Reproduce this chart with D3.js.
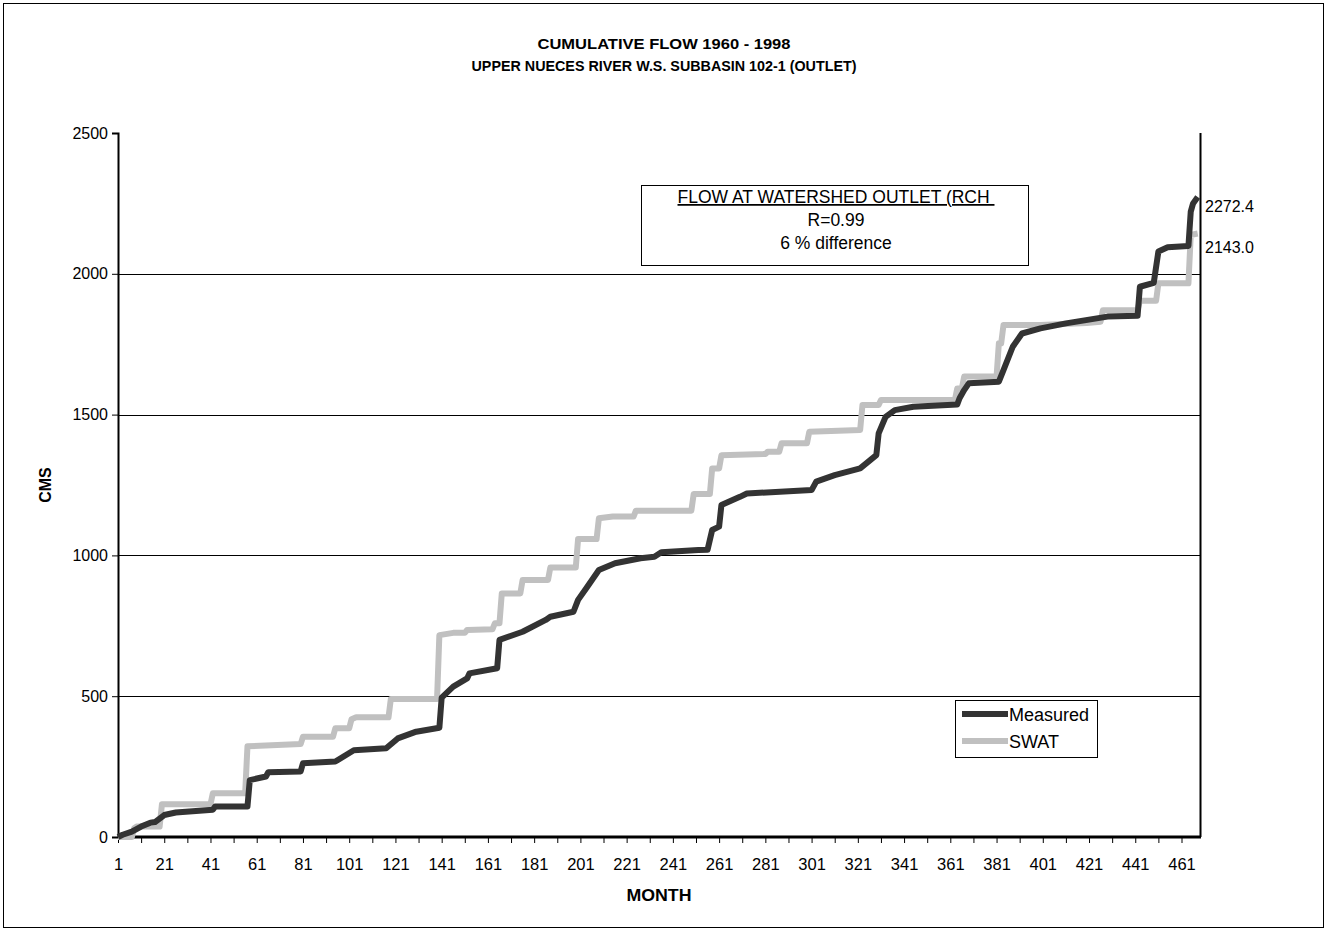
<!DOCTYPE html>
<html>
<head>
<meta charset="utf-8">
<script src="https://cdn.jsdelivr.net/npm/d3@7"></script>
<style>
  html, body { margin: 0; padding: 0; background: #fff; }
  svg { display: block; }
  text { font-family: "Liberation Sans", Arial, sans-serif; fill: #000; }
</style>
</head>
<body>
<svg id="chart" width="1328" height="932"></svg>
<script>
// ---------------- DATA ----------------
const titleLines = ["CUMULATIVE FLOW 1960 - 1998", "UPPER NUECES RIVER W.S. SUBBASIN 102-1 (OUTLET)"];
const xAxisTitle = "MONTH";
const yAxisTitle = "CMS";
const yTickValues = [0, 500, 1000, 1500, 2000, 2500];
const xLabelMonths = [1, 21, 41, 61, 81, 101, 121, 141, 161, 181, 201, 221, 241, 261, 281, 301, 321, 341, 361, 381, 401, 421, 441, 461];
const xMinorMonths = [1, 11, 21, 31, 41, 51, 61, 71, 81, 91, 101, 111, 121, 131, 141, 151, 161, 171, 181, 191, 201, 211, 221, 231, 241, 251, 261, 271, 281, 291, 301, 311, 321, 331, 341, 351, 361, 371, 381, 391, 401, 411, 421, 431, 441, 451, 461];
const seriesNames = ["Measured", "SWAT"];
const annotationLines = ["FLOW AT WATERSHED OUTLET (RCH ", "R=0.99", "6 % difference"];
const endLabels = ["2272.4", "2143.0"];

// Measured cumulative flow (month, CMS) at read-off key points
const measuredMonths = [1, 3, 7, 11, 15, 17, 21, 26, 42, 43, 57, 58, 65, 66, 80, 81, 95, 103, 117, 122, 130, 140, 141, 146, 152, 153, 165, 166, 176, 186, 188, 198, 200, 204, 209, 216, 227, 233, 236, 252, 256, 258, 261, 262, 270, 273, 301, 303, 311, 322, 329, 330, 333, 337, 345, 364, 365, 367, 369, 382, 384, 388, 392, 400, 411, 429, 442, 443, 449, 451, 455, 464, 465, 466, 468];
const measuredValues = [0, 8, 19, 37, 51, 53, 78, 87, 97, 108, 108, 202, 215, 230, 233, 262, 268, 308, 315, 350, 374, 388, 495, 534, 563, 581, 599, 700, 729, 771, 782, 800, 842, 889, 948, 972, 990, 995, 1011, 1019, 1020, 1090, 1102, 1179, 1208, 1220, 1232, 1262, 1285, 1309, 1356, 1433, 1492, 1516, 1528, 1536, 1558, 1587, 1611, 1617, 1658, 1741, 1788, 1806, 1824, 1848, 1851, 1954, 1968, 2079, 2094, 2099, 2221, 2250, 2272.4];

// SWAT simulated cumulative flow (month, CMS)
const swatMonths = [1, 7, 8, 9, 19, 20, 41, 42, 56, 57, 80, 81, 94, 95, 101, 102, 104, 118, 119, 139, 140, 146, 151, 152, 163, 164, 166, 167, 175, 176, 187, 188, 199, 200, 208, 209, 215, 224, 225, 249, 250, 257, 258, 261, 262, 281, 282, 287, 288, 299, 300, 322, 323, 330, 331, 363, 364, 366, 367, 381, 382, 383, 384, 400, 420, 426, 427, 442, 443, 450, 451, 464, 465, 468];
const swatValues = [0, 0, 31, 37, 37, 116, 116, 155, 155, 322, 330, 356, 356, 386, 386, 418, 425, 425, 490, 490, 717, 725, 725, 735, 738, 759, 759, 865, 865, 913, 913, 957, 957, 1058, 1058, 1132, 1138, 1138, 1159, 1159, 1218, 1218, 1309, 1309, 1356, 1360, 1368, 1368, 1398, 1398, 1439, 1445, 1534, 1534, 1552, 1552, 1593, 1593, 1635, 1635, 1753, 1753, 1818, 1818, 1825, 1830, 1871, 1871, 1904, 1904, 1966, 1966, 2138, 2143.0];

// ---------------- LAYOUT ----------------
const svg = d3.select("#chart");
const plot = { left: 118, right: 1200, top: 133, bottom: 837 };
const colors = { Measured: "#333333", SWAT: "#c0c0c0" };

const x = d3.scaleLinear().domain([1, 469]).range([plot.left, plot.right]);
const y = d3.scaleLinear().domain([0, 2500]).range([plot.bottom, plot.top]);

// outer frame
svg.append("rect").attr("x", 3.5).attr("y", 3.5).attr("width", 1320).attr("height", 924)
  .attr("fill", "#fff").attr("stroke", "#000").attr("stroke-width", 1);

// titles
const titleWidths = [253, 385];
svg.selectAll("text.title").data(titleLines).join("text")
  .attr("class", "title")
  .attr("x", 664).attr("y", (d, i) => 49 + i * 22)
  .attr("text-anchor", "middle").attr("font-size", 15).attr("font-weight", "bold")
  .attr("textLength", (d, i) => titleWidths[i]).attr("lengthAdjust", "spacingAndGlyphs")
  .text(d => d);

// gridlines
svg.append("g").selectAll("line").data(yTickValues.filter(v => v > 0 && v < 2500)).join("line")
  .attr("x1", plot.left).attr("x2", plot.right)
  .attr("y1", d => Math.round(y(d)) + 0.5).attr("y2", d => Math.round(y(d)) + 0.5)
  .attr("stroke", "#000").attr("stroke-width", 1);

// right border of plot area
svg.append("line").attr("x1", plot.right + 0.5).attr("x2", plot.right + 0.5)
  .attr("y1", plot.top).attr("y2", plot.bottom).attr("stroke", "#000").attr("stroke-width", 2);

// Y axis
const yAxis = d3.axisLeft(y).tickValues(yTickValues).tickSize(6).tickPadding(4).tickFormat(d3.format("d"));
const gy = svg.append("g").attr("transform", `translate(${plot.left},0)`).call(yAxis);
gy.select(".domain").attr("stroke", "#000").attr("stroke-width", 2);
gy.selectAll("text").attr("font-size", 16).attr("font-family", "Liberation Sans, Arial, sans-serif").attr("fill", "#000");

// X axis (minor ticks + labels)
const xAxis = d3.axisBottom(x).tickValues(xMinorMonths).tickSize(6).tickPadding(15)
  .tickFormat(d => xLabelMonths.includes(d) ? d : "");
const gx = svg.append("g").attr("transform", `translate(0,${plot.bottom})`).call(xAxis);
gx.select(".domain").attr("stroke", "#000").attr("stroke-width", 3).attr("d", `M${plot.left},0H${plot.right + 1}`);
gx.selectAll("text").attr("font-size", 16.5).attr("font-family", "Liberation Sans, Arial, sans-serif").attr("fill", "#000");

// axis titles
svg.append("text").attr("transform", "translate(51,485) rotate(-90)")
  .attr("text-anchor", "middle").attr("font-size", 16).attr("font-weight", "bold").text(yAxisTitle);
svg.append("text").attr("x", 659).attr("y", 901)
  .attr("text-anchor", "middle").attr("font-size", 16).attr("font-weight", "bold")
  .attr("textLength", 65).attr("lengthAdjust", "spacingAndGlyphs").text(xAxisTitle);

// series
const line = d3.line().x(d => x(d[0])).y(d => y(d[1]));
const swatData = swatMonths.map((m, i) => [m, swatValues[i]]);
const measData = measuredMonths.map((m, i) => [m, measuredValues[i]]);
svg.append("path").datum(swatData).attr("d", line)
  .attr("fill", "none").attr("stroke", colors.SWAT).attr("stroke-width", 6).attr("stroke-linejoin", "round");
svg.append("path").datum(measData).attr("d", line)
  .attr("fill", "none").attr("stroke", colors.Measured).attr("stroke-width", 6).attr("stroke-linejoin", "round");

// end labels
svg.selectAll("text.endlab").data(endLabels).join("text")
  .attr("class", "endlab").attr("x", 1205).attr("y", (d, i) => i === 0 ? 212 : 253)
  .attr("font-size", 16).text(d => d);

// annotation box
svg.append("rect").attr("x", 641.5).attr("y", 185.5).attr("width", 387).attr("height", 80)
  .attr("fill", "#fff").attr("stroke", "#000").attr("stroke-width", 1);
svg.selectAll("text.annot").data(annotationLines).join("text")
  .attr("class", "annot").attr("x", 836).attr("y", (d, i) => 203 + i * 23)
  .attr("text-anchor", "middle").attr("font-size", 17.5)
  .attr("text-decoration", (d, i) => i === 0 ? "underline" : null)
  .style("white-space", "pre")
  .text(d => d);

// legend
const lg = svg.append("g");
lg.append("rect").attr("x", 955.5).attr("y", 700.5).attr("width", 142).attr("height", 57)
  .attr("fill", "#fff").attr("stroke", "#000").attr("stroke-width", 1);
seriesNames.forEach((name, i) => {
  const yy = 714 + i * 27;
  lg.append("line").attr("x1", 962).attr("x2", 1008).attr("y1", yy).attr("y2", yy)
    .attr("stroke", colors[name]).attr("stroke-width", 6);
  lg.append("text").attr("x", 1009).attr("y", yy + 6.5).attr("font-size", 18).text(name);
});
</script>
</body>
</html>
